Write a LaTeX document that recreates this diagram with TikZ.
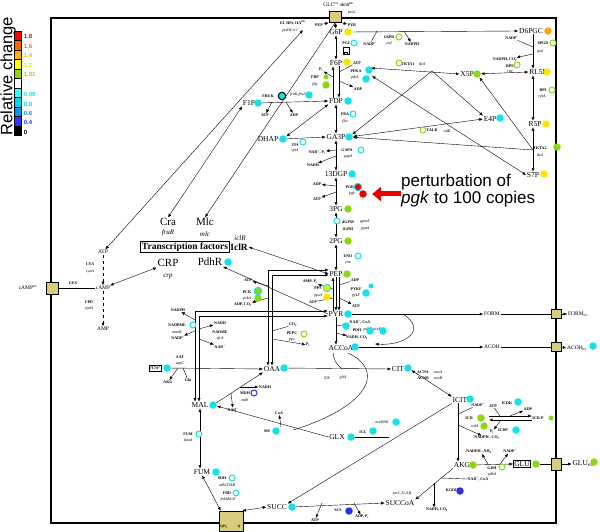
\documentclass[tikz,border=0pt]{standalone}
\usepackage{fontspec}
\setmainfont{Liberation Serif}
\setsansfont{Liberation Sans}
\usetikzlibrary{arrows.meta, backgrounds}

\definecolor{cy}{RGB}{20,225,235}
\definecolor{gr}{RGB}{140,215,20}
\definecolor{ye}{RGB}{255,228,0}
\definecolor{org}{RGB}{255,165,20}
\definecolor{bl}{RGB}{40,50,225}
\definecolor{rd}{RGB}{235,0,0}
\definecolor{khaki}{RGB}{215,205,125}
% legend colours
\definecolor{l1}{RGB}{255,0,0}
\definecolor{l2}{RGB}{255,102,0}
\definecolor{l3}{RGB}{255,176,0}
\definecolor{l4}{RGB}{255,255,0}
\definecolor{l5}{RGB}{153,214,0}
\definecolor{l6}{RGB}{255,255,255}
\definecolor{l7}{RGB}{51,255,255}
\definecolor{l8}{RGB}{0,215,240}
\definecolor{l9}{RGB}{0,150,240}
\definecolor{l10}{RGB}{51,51,255}
\definecolor{l11}{RGB}{0,0,0}

\begin{document}
\begin{tikzpicture}[x=1pt, y=-1pt, >={Latex[length=3.6pt,width=3pt]}, line width=0.65pt,
  mdot/.style={circle, fill=#1, minimum size=7.5pt, inner sep=0pt},
  sdot/.style={circle, fill=#1, minimum size=5pt, inner sep=0pt},
  odot/.style={circle, draw=#1, fill=white, line width=1pt, minimum size=6pt, inner sep=0pt},
  rdot/.style 2 args={circle, fill=#1, draw=#2, line width=1pt, minimum size=7.5pt, inner sep=0pt}]
\tikzstyle{met} = [font=\fontsize{7.5}{7.5}\selectfont, inner sep=0.5pt]
\tikzstyle{sm} = [font=\fontsize{5.5}{5.5}\selectfont, inner sep=0.5pt]
\tikzstyle{enz} = [font=\bfseries\fontsize{4}{4}\selectfont, inner sep=0.3pt]
\tikzstyle{gene} = [font=\itshape\fontsize{4}{4}\selectfont, inner sep=0.3pt]
\tikzstyle{tf} = [font=\fontsize{11}{11}\selectfont, inner sep=0.5pt]
\tikzstyle{tfg} = [font=\itshape\fontsize{7}{7}\selectfont, inner sep=0.5pt]
\tikzstyle{leg} = [font=\sffamily\bfseries\fontsize{6}{6}\selectfont, anchor=west, inner sep=0.5pt]
\tikzstyle{trans} = [draw, fill=khaki, inner sep=0pt, line width=0.6pt]
\useasboundingbox (0,0) rectangle (600,532);

% legend
\node[rotate=90, font=\sffamily\fontsize{16.5}{16.5}\selectfont, inner sep=0pt] (legT) at (8,76) {Relative change};
\foreach \c [count=\i] in {l1,l2,l3,l4,l5,l6,l7,l8,l9,l10,l11}
  \draw[fill=\c, line width=0.3pt] (14,21.5+9.5*\i) rectangle +(7,9.5);
\foreach \t/\c/\y [count=\i] in {1.8/l1/36, 1.6/l2/46, 1.4/l3/55, 1.2/l4!90!black/65, 1.01/l5/74,
  0.99/l7!85!black/94, 0.8/l8/104, 0.6/l9/113, 0.4/l10/122, 0/l11/132}
  \node[leg, text=\c] (lg\i) at (23,\y) {\t};

% cell
\draw[line width=1.5pt] (51,18) rectangle (556,523);

% transporters
\node[trans, minimum width=12pt, minimum height=11pt] (tglc) at (335,17) {};
\node[trans, minimum width=12pt, minimum height=12pt] (tcamp) at (52,288) {};
\node[trans, minimum width=10pt, minimum height=9pt] (tform) at (556,314) {};
\node[trans, minimum width=10pt, minimum height=9pt] (tacoh) at (556,347) {};
\node[trans, minimum width=10pt, minimum height=12pt] (tglu) at (556,464) {};
\node[trans, minimum width=24pt, minimum height=20pt] (tq) at (231,521) {};
\node[font=\bfseries\fontsize{3.5}{3.5}\selectfont, inner sep=0pt] (qh) at (224,527) {QH\textsubscript{2}};
\node[font=\bfseries\fontsize{3.5}{3.5}\selectfont, inner sep=0pt] (qq) at (239,527) {Q};

% metabolites
\foreach \n/\x/\y/\t in {g6p/336/32/G6P, f6p/336/63/F6P, fdp/336/101/FDP, ga3p/336/137/GA3P,
  dgp/336/174/13DGP, pga3/336/209/3PG, pga2/336/241/2PG, pep/336/274/PEP, pyr/336/314/PYR,
  accoa/341/348/ACCoA, f1p/249/103/F1P, dhap/268/139/DHAP, d6pgc/531/31/D6PGC, rl5p/538/72/RL5P,
  x5p/467/74/X5P, r5p/535/124/R5P, e4p/490/119/E4P, s7p/533/175/S7P, oaa/272/369/OAA,
  cit/398/369/CIT, icit/460/400/ICIT, akg/462/465/AKG, succoa/400/503/SUCCoA,
  succ/277/507/SUCC, fum/202/472/FUM, mal/200/405/MAL, glx/337/437/GLX}
  \node[met] (\n) at (\x,\y) {\t};
\node[met, draw, inner sep=1pt] (glu) at (522,464) {GLU};
\node[met] (gluex) at (583,464) {GLU\textsubscript{ex}};
\node[sm, draw, inner sep=1pt] (asp) at (155,368) {ASP};
\foreach \n/\x/\y/\t in {form/492/314/FORM, formex/578/314/{FORM\textsubscript{ex}},
  acoh/492/347/ACOH, acohex/577/348/{ACOH\textsubscript{ex}}, camp/103/288/cAMP,
  atpc/103/252/ATP, amp/103/329/AMP, campex/28/288/{cAMP\textsuperscript{ex}},
  glcex/331/5/{GLC\textsuperscript{ex}}}
  \node[sm] (\n) at (\x,\y) {\t};

% regulators
\node[tf] (cra) at (168,222) {Cra};
\node[tfg] (fruR) at (168,233) {fruR};
\node[tf] (mlc) at (205,222) {Mlc};
\node[tfg] (mlcG) at (205,234) {mlc};
\node[draw, font=\bfseries\fontsize{9.5}{9.5}\selectfont, inner sep=1.2pt, line width=0.6pt] (tfbox) at (185,247) {Transcription factors};
\node[font=\bfseries\fontsize{9.5}{9.5}\selectfont, inner sep=0.5pt, anchor=west] (iclr) at (tfbox.east) {IclR};
\node[tfg] (iclrG) at (240,238) {iclR};
\node[tf] (crp) at (168,263) {CRP};
\node[tfg] (crpG) at (168,277) {crp};
\node[tf] (pdhr) at (210,262) {PdhR};

% enzymes and cofactors
\foreach \n/\x/\y/\t in {eiL/293/23/{EI, HPr, IIA\textsuperscript{Glc}}, iicbL/347/5/{IICB\textsuperscript{Glc}},
  pepT/319/25/PEP, pyrT/352/25/PYR, nadpA/370/44/{NADP\textsuperscript{+}}, g6pdL/389/37/G6PD,
  nadphA/412/44/NADPH, pgiL/346/43/PGI, atpA/357/63/ATP, pfkaL/356/71/PFKA, adpA/358/89/ADP,
  piA/321/70/{P\textsubscript{i}}, fbpL/315/77/FBP, frukL/268/96/FRUK, atpB/265/115/ATP,
  adpB/294/115/ADP, fbaL/345/114/FBA, tpiL/295/145/TPI, gapaL/347/150/GAPA,
  nadpiA/317/152/{NAD\textsuperscript{+}, P\textsubscript{i}}, nadhA/313/165/NADH,
  adpC/317/184/ADP, atpC/317/199/ATP, pgkL/350/187/PGK, dgpmL/348/222/dGPM, igpmL/348/229/iGPM,
  enoL/348/256/ENO, amppiA/310/282/{AMP, P\textsubscript{i}}, ppsL/318/288/PPS, atpD/313/302/ATP,
  adpD/355/280/ADP, pykfL/356/289/PYKF, atpE/356/306/ATP, nadcoaA/360/322/{NAD\textsuperscript{+}, CoA},
  pdhL/357/330/PDH, nadhcoA/357/338/{NADH, CO\textsubscript{2}}, cyaL/90/264/CYA, cpdL/89/302/CPD,
  cexL/73/283/CEX, atpF/248/280/ATP, pckL/247/292/PCK, adpcoA/243/305/{ADP, CO\textsubscript{2}},
  co2A/293/325/{CO\textsubscript{2}}, pepcL/292/333/PEPC, piB/308/345/{P\textsubscript{i}},
  nadphB/178/310/NADPH, nadpmeL/177/325/NADPME, nadpB/178/338/{NADP\textsuperscript{+}},
  nadhB/220/323/NADH, nadmeL/220/332/NADME, nadB/220/347/{NAD\textsuperscript{+}},
  aatL/180/357/AAT, akgA/168/382/AKG, gluA/188/380/Glu, nadhC/265/387/NADH, mdhL/245/393/MDH,
  nadC/233/410/{NAD\textsuperscript{+}}, fumL/188/434/FUM, sdhL/222/478/SDH, frdL/227/493/FRD,
  msL/267/431/MS, coaA/279/413/CoA, csL/327/378/CS, acnaL/423/372/ACNA, acnbL/423/378/ACNB,
  iclL/363/432/ICL, nadpC/478/405/{NADP\textsuperscript{+}}, icdL/469/418/ICD, piC/492/432/{P\textsubscript{i}},
  nadphcoA/487/438/{NADPH , CO\textsubscript{2}}, atpG/493/406/ATP, icdkL/507/403/ICDK, adpG/528/409/ADP,
  icdpL/503/430/ICDP, icdP/538/418/ICD-P, nadphnhA/480/451/{NADPH , NH\textsubscript{4}\textsuperscript{+}},
  nadpD/510/451/{NADP\textsuperscript{+}}, gdhL/492/468/GDH, nadcoaB/478/479/{NAD\textsuperscript{+}, CoA},
  kgdhL/452/490/KGDH, nadhcoB/437/510/{NADH, CO\textsubscript{2}}, scsL/338/510/SCS, atpH/315/520/ATP,
  adppiA/362/517/{ADP, P\textsubscript{i}}, nadpE/512/38/{NADP\textsuperscript{+}}, pgdL/543/43/6PGD,
  nadphcoC/505/60/{NADPH, CO\textsubscript{2}}, rpeL/510/66/RPE, rpiL/543/90/RPI, tkta2L/540/148/TKTA2,
  tkta1L/408/64/TKTA1, talbL/432/130/TALB}
  \node[enz] (\n) at (\x,\y) {\t};

\foreach \n/\x/\y/\t in {ptsgG/352/13/ptsG, ptshG/290/31/ptsHI-crr, zwfG/389/44/zwf, pfkaG/355/78/pfkA,
  fbpG/315/85/fbp, frukG/298/95/{fruK,fruA}, fbaG/345/122/fba, tpiG/295/151/tpiA, gapaG/348/157/gapA,
  pgkG/352/194/pgk, gpmaG/365/222/gpmA, pgmiG/365/229/pgmI, enoG/348/263/eno, ppsG/318/296/ppsA,
  pykfG/356/296/pykF, pdhG/374/330/{pdhR,aceE,F}, cyaG/90/272/cyaA, cpdG/89/309/cpdA, pckG/247/299/pckA,
  ppcG/292/340/ppc, maebG/177/332/maeB, sfcaG/220/339/sfcA, aspcG/180/364/aspC, mdhG/245/400/mdh,
  fumaG/188/441/fumA, sdhG/227/485/sdhCDAB, frdG/228/500/frdABCD, gltaG/343/378/gltA,
  acnaG/438/372/acnA, acnbG/438/378/acnB, acebG/382/422/aceBAK, icdaG/475/426/icdA, gdhaG/492/475/gdhA,
  sucG/402/493/{sucC,D,A,B}, gndG/540/52/gnd, rpeG/510/72/rpe, rpiaG/542/97/rpiA,
  tktaG2/540/155/tktA, tktaG1/422/64/tktA, talbG/447/131/talB}
  \node[gene] (\n) at (\x,\y) {\t};

% knock-out icon
\node[draw, minimum width=6pt, minimum height=7pt, inner sep=0pt, line width=0.5pt] (pgiIcon) at (346,51) {};
\node[draw, minimum width=3pt, minimum height=2.5pt, inner sep=0pt, line width=0.4pt] (pgiIcon2) at (346,53) {};

% coloured marks
\foreach \n/\x/\y/\c in {g6pD/348/32/ye, f6pD/347/62/ye, fdpD/348/101/cy, ga3pD/349/137/cy,
  dgpD/352/174/cy, pga3D/348/209/gr, pga2D/348/241/gr, pepD/347/274/gr, pyrD/348/314/cy,
  accoaD/355/347/cy, f1pD/258/103/cy, dhapD/283/139/cy, d6pgcD/548/31/org, rl5pD/547/72/ye,
  x5pD/477/74/gr, r5pD/546/124/ye, e4pD/500/118/cy, s7pD/544/174/ye, acohexD/593/346/cy,
  oaaD/284/368/cy, citD/408/368/cy, icitD/470/399/cy, akgD/473/465/gr, gluD/536/464/gr,
  gluexD/594/462/gr, succD/292/507/cy, fumD/216/472/cy, malD/213/405/cy, glxD/351/437/cy,
  aspD/167/368/cy, pdhrD/228/262/cy, pfkaD/369/70/cy, pfkaD2/366/79/cy, fbpD2/326/85/gr,
  frukD2/309/95/cy, pgkD2/363/194/rd, ppsD2/327/297/ye, pykfD2/366/293/cy, pdhD/346/326/cy,
  pdhD2/370/331/cy, pdhD3/383/331/cy, pckD2/258/298/gr, msD/276/431/cy, iclD/373/431/cy,
  acebD/396/422/cy, icdD/481/418/gr, icdD2/484/426/gr, icdkD/518/402/cy, icdpD/516/430/cy,
  kgdhD/460/491/bl, scsD/349/511/bl, tkta2D/557/147/gr}
  \node[mdot=\c] (\n) at (\x,\y) {};
\foreach \n/\x/\y/\c in {fbpD/326/77/gr, pykfD/371/286/cy, icdPD/551/418/gr}
  \node[sdot=\c] (\n) at (\x,\y) {};
\foreach \n/\x/\y/\c in {pgiD/354/43/cy, g6pdD/399/37/gr, fbaD/353/114/cy, tpiD/303/142/cy,
  gapaD/361/150/cy, gpmD/337/221/cy, enoD/358/256/cy, pepcD/304/334/gr, nadpmeD/193/325/cy,
  mdhD/254/393/bl, fumD2/199/434/cy, sdhD/232/478/cy, frdD/236/493/cy, gdhD/502/467/gr,
  pgdD/553/43/gr, rpeD/517/65/gr, rpiD/552/90/gr, tkta1D/399/63/gr, talbD/423/130/gr}
  \node[odot=\c] (\n) at (\x,\y) {};
\node[rdot={cy}{black}] (frukD) at (282,96) {};
\node[rdot={rd}{cy}] (pgkD) at (358,187) {};
\node[rdot={ye}{cy}] (ppsD) at (327,288) {};
\node[rdot={gr}{cy}] (pckD) at (258,291) {};

% junction points
\foreach \n/\x/\y in {jfbp/333/77, jpfk1/339/72, jpfk2/339/81, jgap1/336/150, jgap2/336/156,
  jpgk1/336/186, jpgk2/336/192, jpps1/333/289, jpps2/333/298, jpyk1/339/285, jpyk2/339/298,
  jpdh1/336/326, jpdh2/336/333, jzwf1/377/31, jzwf2/404/31, jgnd1/533/47, jgnd2/533/54,
  jfk1/272/102, jfk2/286/102, jpck1/268/286, jpck2/268/298, jppc1/272/331, jppc2/272/339,
  jme1/195/320, jme2/195/331, jnme1/199/329, jnme2/199/339, jaat1/178/368, jaat2/183/368,
  jmdh1/240/387, jmdh2/231/393, jms/281/427, jmsc/293/430, jicl/389/437, jcs/342/369,
  jacs/333/353, jacm/348/353, jicd1/458/414, jicd2/458/425, jpa/489/416, jpb/489/420,
  jicdk1/500/416, jicdk2/510/416, jicdp/501/420, jgdh1/488/464, jgdh2/500/464,
  jkg1/441/478, jkg2/434/483, jscs1/322/503, jscs2/354/503, jpfl/403/314, jacc/375/344,
  jtk1/432/71, jtk2/533/150, jf6a/371/68, jf6b/372/76, jei/303/30}
  \coordinate (\n) at (\x,\y);

\begin{pgfonlayer}{background}
% glycolysis
\draw[<->] (tglc.south) -- (g6p.north);
\draw[->] (pepT) -- (tglc.south west);
\draw[->] (tglc.south east) -- (pyrT);
\draw[<->] (g6p.south) -- (f6p.north);
\draw[<-] ([xshift=-3pt]f6p.south) -- ([xshift=-3pt]fdp.north);
\draw[->] ([xshift=3pt]f6p.south) -- ([xshift=3pt]fdp.north);
\foreach \from/\to in {fdp/ga3p, ga3p/dgp, dgp/pga3, pga3/pga2, pga2/pep}
  \draw[<->] (\from.south) -- (\to.north);
\draw[<-] ([xshift=-3pt]pep.south) -- ([xshift=-3pt]pyr.north);
\draw[->] (pep.south) -- (pyr.north);
\draw[->] ([xshift=3pt]pep.south) -- ([xshift=3pt]pyr.north);
\draw[->] (pyr.south) -- (pyr.south |- accoa.north);
\draw[->] (jfbp) -- (piA);
\draw (atpA.south west) -- (jpfk1);
\draw[->] (jpfk2) -- (adpA);
\draw[->] (jgap1) -- (nadpiA);
\draw[->] (jgap2) -- (nadhA);
\draw[->] (jpgk1) -- (adpC);
\draw[->] (jpgk2) -- (atpC);
\draw[->] (jpps1) -- (amppiA);
\draw (atpD) -- (jpps2);
\draw (adpD) -- (jpyk1);
\draw[->] (jpyk2) -- (atpE);
\draw (nadcoaA) -- (jpdh1);
\draw[->] (jpdh2) -- (nadhcoA);

% pentose phosphate
\draw[->] (g6pD) -- (d6pgc.west);
\draw (nadpA) -- (jzwf1);
\draw[->] (jzwf2) -- (nadphA);
\draw[->] ([xshift=2pt]d6pgc.south) -- ([xshift=-5pt]rl5p.north);
\draw (nadpE) -- (jgnd1);
\draw[->] (jgnd2) -- (nadphcoC);
\draw[<->] (x5pD) -- (rl5p.west);
\draw[<->] ([xshift=-5pt]rl5p.south) -- ([xshift=-2pt]r5p.north);
\draw[<->] ([xshift=-2pt]r5p.south) -- (s7p.north);
\draw[->] (jtk2) -- (x5pD);
\draw[->] (jtk2) -- (ga3pD);
\draw[<->] (jf6a) -- (x5p.west);
\draw[->] (jtk1) -- (ga3pD);
\draw[->] (jtk1) -- (e4p.north west);
\draw[<->] (ga3pD) -- (e4p.west);
\draw[<->] (jf6b) -- (s7p.west);
\draw[cy!50, dotted] (e4pD) -- (r5p.west);

% upper glycolysis side branches
\draw[->] (f1pD) -- (fdp.west);
\draw[->] (jfk1) -- (atpB);
\draw[->] (jfk2) -- (adpB);
\draw[<->] (fdp.south west) -- (dhapD);
\draw[->] (dhapD) -- (ga3p.west);

% regulation
\draw[<->] (atpc) -- (jei);
\draw[<->] (cra.north) -- (f1p.south west);
\draw[->] (tglc.south) -- (mlc.north);
\draw[<->] (pep.west) -- (iclr.east);
\draw[->] (pyr.west) -- (pdhr.south east);
\draw[->, dashed] (atpc) -- (camp);
\draw[->, dashed] (camp) -- (amp);
\draw (tcamp) -- (camp);
\draw[<->] (camp) -- (crp.south west);

% anaplerosis
\draw[<->] ([yshift=4pt]pep.west) -| ([xshift=-4pt]oaa.north);
\draw[<->] ([yshift=-1pt]pep.west) -| (oaa.north);
\draw[<->] ([yshift=3pt]pyr.west) -| ([xshift=-5pt]mal.north);
\draw[<->] ([yshift=-2pt]pyr.west) -| ([xshift=-1pt]mal.north);
\draw[->] (jpck1) -- (atpF);
\draw[->] (jpck2) -- (adpcoA);
\draw (co2A) -- (jppc1);
\draw[->] (jppc2) -- (piB);
\draw[->] (jme1) -- (nadphB);
\draw[->] (jme2) -- (nadpB);
\draw[->] (jnme1) -- (nadhB);
\draw[->] (jnme2) -- (nadB);

% fermentation products
\draw[->] (pyrD) -- (form.west);
\draw (form.east) -- (tform.west);
\draw[->] (tform.east) -- (formex.west);
\draw[->] (jpfl) .. controls (428,330) and (405,346) .. (jacc);
\draw[->] (accoaD) -- (acoh.west);
\draw (acoh.east) -- (tacoh.west);
\draw[->] (tacoh.east) -- (acohex.west);

% TCA cycle and glyoxylate shunt
\draw[->] (oaaD) -- (cit.west);
\draw (jacs) .. controls (335,362) .. (jcs);
\draw (jacm) .. controls (388,372) and (365,408) .. (jmsc);
\draw[<->] (citD) -- (icit.north west);
\draw[->] ([xshift=-2pt]icit.south) -- ([xshift=-4pt]akg.north);
\draw[->] (icit.south west) -- (succ.north east);
\draw (glxD) -- (jicl);
\draw[->] (glx.west) -- (malD);
\draw[->] (jms) -- (coaA);
\draw[->] (malD) -- (oaa.south west);
\draw[->] (jmdh1) -- (nadhC);
\draw[->] (jmdh2) -- (nadC);
\draw[<->] (mal.south) -- (mal.south |- fum.north);
\draw[<->] (fum.south) -- ([xshift=2pt]tq.north west);
\draw[<->] (succ.west) -- ([xshift=-1pt]tq.north east);
\draw[->] (succD) -- (succoa.west);
\draw[->] (jscs1) -- (atpH);
\draw[->] (jscs2) -- (adppiA);
\draw[->] (akg.south west) -- (succoa.north east);
\draw (jkg1) -- (nadcoaB.west);
\draw[->] (jkg2) -- (jkg2 |- nadhcoB.north);
\draw (nadpC) -- (jicd1);
\draw[->] (jicd2) -- (nadphcoA);
\draw[->] (jpa) -- (jpa -| icdP.west);
\draw[<-] (jpb) -- (jpb -| icdP.west);
\draw (atpG) -- (jicdk1);
\draw[->] (jicdk2) -- (adpG);
\draw[->] (jicdp) -- (piC);
\draw[->] (akgD) -- (glu.west);
\draw[->] (jgdh1) -- (nadphnhA);
\draw[->] (jgdh2) -- (nadpD);
\draw (gluD) -- (tglu.west);
\draw[->] (tglu.east) -- (gluex.west);
\draw[->] (aspD) -- (oaa.west);
\draw[->] (jaat1) -- (akgA);
\draw (jaat2) -- (gluA);
\end{pgfonlayer}

% perturbation note
\node[font=\sffamily\fontsize{17}{17}\selectfont, align=left, anchor=west, inner sep=0pt] (pert) at (401,191)
  {perturbation of\\\textit{pgk} to 100 copies};
\draw[rd, line width=5pt, -{Triangle[length=9pt,width=14pt]}, shorten >=5pt] (pert.west |- pgkD2) -- (pgkD2.east);
\end{tikzpicture}
\end{document}
